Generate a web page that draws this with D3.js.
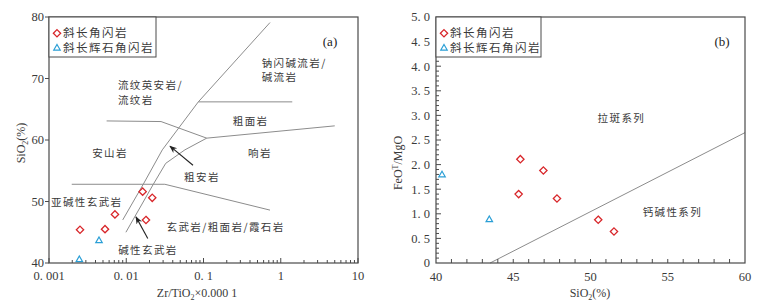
<!DOCTYPE html>
<html><head><meta charset="utf-8">
<script src="https://cdnjs.cloudflare.com/ajax/libs/d3/7.8.5/d3.min.js"></script>
<style>
body{margin:0;background:#fff;}
svg{display:block;}
</style></head>
<body>
<svg id="c" width="771" height="303"></svg>
<script>
// ---------- data ----------
const seriesNames = ["斜长角闪岩", "斜长辉石角闪岩"];
// Chart (a): Zr/TiO2*0.0001 vs SiO2
const aDiamondZr = [0.00252, 0.00531, 0.00714, 0.0163, 0.0217, 0.0180];
const aDiamondSi = [45.4, 45.5, 47.9, 51.6, 50.6, 47.0];
const aTriZr = [0.00444, 0.00247];
const aTriSi = [43.7, 40.6];
// Chart (b): SiO2 vs FeOT/MgO
const bDiamondSi = [45.46, 46.95, 45.35, 47.83, 50.5, 51.52];
const bDiamondFM = [2.11, 1.88, 1.40, 1.31, 0.88, 0.64];
const bTriSi = [40.39, 43.45];
const bTriFM = [1.80, 0.89];
// axis ticks
const aXTicks = [0.001, 0.01, 0.1, 1, 10];
const aXTickLabels = ["0. 001", "0. 01", "0. 1", "1", "10"];
const aYTicks = [40, 50, 60, 70, 80];
const bXTicks = [40, 45, 50, 55, 60];
const bYTicks = [0, 0.5, 1, 1.5, 2, 2.5, 3, 3.5, 4, 4.5, 5];
const bYTickLabels = ["0", "0. 5", "1. 0", "1. 5", "2. 0", "2. 5", "3. 0", "3. 5", "4. 0", "4. 5", "5. 0"];
// field boundaries (data coords) of diagram (a)
const aBoundaries = [
  [[0.726,79.1],[0.0857,66.2],[0.0293,58.4],[0.0166,52.8],[0.0090,47.0]],
  [[0.110,60.3],[0.0575,58.4],[0.0324,56.2],[0.0224,52.8],[0.0099,45.0]],
  [[0.00557,63.1],[0.0282,63.0],[0.110,60.3],[5.0,62.3]],
  [[0.0857,66.2],[1.41,66.2]],
  [[0.00197,52.8],[0.0316,52.8],[0.726,48.6]]
];
const aFieldLabels = [
  {t:["流纹英安岩/","流纹岩"], x:0.0078, y:[68.86,66.5], anchor:"start"},
  {t:["钠闪碱流岩/","碱流岩"], x:0.566, y:[72.54,70.18], anchor:"start"},
  {t:["粗面岩"], x:0.408, y:[63.1], anchor:"middle"},
  {t:["安山岩"], x:0.00617, y:[57.9], anchor:"middle"},
  {t:["响岩"], x:0.538, y:[57.9], anchor:"middle"},
  {t:["粗安岩"], x:0.0955, y:[54.0], anchor:"middle"},
  {t:["亚碱性玄武岩"], x:0.00308, y:[49.8], anchor:"middle"},
  {t:["玄武岩/粗面岩/霞石岩"], x:0.193, y:[45.8], anchor:"middle"},
  {t:["碱性玄武岩"], x:0.0191, y:[42.1], anchor:"middle"}
];
const aArrows = [
  {from:[0.0731,55.9], to:[0.0368,59.0]},
  {from:[0.0190,44.0], to:[0.01336,47.5]}
];
// boundary line of diagram (b)
const bLine = [[43.5,0],[60,2.65]];
const bFieldLabels = [
  {t:"拉斑系列", x:52.0, y:2.94},
  {t:"钙碱性系列", x:55.3, y:1.04}
];

// ---------- drawing ----------
const svg = d3.select("#c");
const axisCol = "#4a4a4a", lineCol = "#8c8c8c", textCol = "#3a3a3a";
const red = "#d8262a", blue = "#2a9fd6";
const serif = "'Liberation Serif','DejaVu Serif',serif";
const cjk = "'Noto Sans CJK SC','Noto Sans',sans-serif";

function diamond(g, x, y){
  g.append("path").attr("d", d3.symbol().type(d3.symbolDiamond2 || d3.symbolSquare2).size(34)())
   .attr("transform", `translate(${x},${y}) rotate(${d3.symbolDiamond2?0:45})`)
   .attr("fill","#fff").attr("stroke",red).attr("stroke-width",1.3);
}
function triangle(g, x, y){
  g.append("path").attr("d", d3.symbol().type(d3.symbolTriangle2).size(30)())
   .attr("transform", `translate(${x},${y+0.5})`)
   .attr("fill","#fff").attr("stroke",blue).attr("stroke-width",1.2);
}
function legend(g, x0, y0, w, h){
  g.append("rect").attr("x",x0).attr("y",y0).attr("width",w).attr("height",h)
   .attr("fill","#fff").attr("stroke",axisCol).attr("stroke-width",1);
  diamond(g, x0+8, y0+16.3);
  triangle(g, x0+8, y0+30.7);
  seriesNames.forEach((s,i)=>{
    g.append("text").attr("x",x0+14).attr("y",y0+16.3+14.4*i).attr("dy","0.35em")
     .attr("font-family",cjk).attr("font-size",11.5).attr("letter-spacing",1.5)
     .attr("fill",textCol).text(s);
  });
}

// ===== Chart (a) =====
{
  const L=49, R=358, T=17, B=263;
  const x = d3.scaleLog().domain([0.001,10]).range([L,R]);
  const y = d3.scaleLinear().domain([40,80]).range([B,T]);
  const g = svg.append("g");
  const ln = d3.line().x(d=>x(d[0])).y(d=>y(d[1]));
  aBoundaries.forEach(b=>g.append("path").attr("d",ln(b)).attr("fill","none")
     .attr("stroke",lineCol).attr("stroke-width",1));
  const defs = svg.append("defs");
  defs.append("marker").attr("id","arr").attr("viewBox","0 0 10 10").attr("refX",9).attr("refY",5)
    .attr("markerWidth",7).attr("markerHeight",7).attr("orient","auto")
    .append("path").attr("d","M0,1 L10,5 L0,9 L3,5 Z").attr("fill","#222");
  aArrows.forEach(a=>g.append("line").attr("x1",x(a.from[0])).attr("y1",y(a.from[1]))
     .attr("x2",x(a.to[0])).attr("y2",y(a.to[1])).attr("stroke","#222").attr("stroke-width",1.1)
     .attr("marker-end","url(#arr)"));
  aFieldLabels.forEach(f=>{
    f.t.forEach((t,i)=>g.append("text").attr("x",x(f.x)).attr("y",y(f.y[i])).attr("dy","0.35em")
      .attr("text-anchor",f.anchor).attr("font-family",cjk).attr("font-size",10.5)
      .attr("letter-spacing",1.4).attr("fill",textCol).text(t));
  });
  g.append("text").attr("x",330).attr("y",41).attr("dy","0.35em").attr("text-anchor","middle")
    .attr("font-family",serif).attr("font-size",13).attr("fill","#222").text("(a)");
  aDiamondZr.forEach((v,i)=>diamond(g,x(v),y(aDiamondSi[i])));
  aTriZr.forEach((v,i)=>triangle(g,x(v),y(aTriSi[i])));
  g.append("rect").attr("x",L).attr("y",T).attr("width",R-L).attr("height",B-T)
   .attr("fill","none").attr("stroke",axisCol).attr("stroke-width",1.2);
  const minor = [];
  for(let e=-3;e<1;e++) for(let k=2;k<10;k++) minor.push(k*Math.pow(10,e));
  g.selectAll(".mnx").data(minor).enter().append("line")
   .attr("x1",d=>x(d)).attr("x2",d=>x(d)).attr("y1",B).attr("y2",B-3).attr("stroke",axisCol);
  g.selectAll(".mjx").data(aXTicks).enter().append("line")
   .attr("x1",d=>x(d)).attr("x2",d=>x(d)).attr("y1",B).attr("y2",B-5).attr("stroke",axisCol);
  g.selectAll(".xl").data(aXTicks).enter().append("text")
   .attr("x",d=>x(d)).attr("y",B+13).attr("dy","0.35em").attr("text-anchor","middle")
   .attr("font-family",serif).attr("font-size",12.5).attr("fill",textCol)
   .text((d,i)=>aXTickLabels[i]);
  g.selectAll(".mjy").data(aYTicks).enter().append("line")
   .attr("x1",L).attr("x2",L-4).attr("y1",d=>y(d)).attr("y2",d=>y(d)).attr("stroke",axisCol);
  g.selectAll(".yl").data(aYTicks).enter().append("text")
   .attr("x",L-5).attr("y",d=>y(d)).attr("dy","0.35em").attr("text-anchor","end")
   .attr("font-family",serif).attr("font-size",12.5).attr("fill",textCol).text(d=>d);
  const xt = g.append("text").attr("x",197).attr("y",293).attr("dy","0.35em").attr("text-anchor","middle")
    .attr("font-family",serif).attr("font-size",12).attr("fill",textCol);
  xt.append("tspan").text("Zr/TiO");
  xt.append("tspan").attr("font-size",8).attr("dy",3).text("2");
  xt.append("tspan").attr("dy",-3).text("×0.000 1");
  const yt = g.append("text").attr("transform","translate(21,143) rotate(-90)").attr("dy","0.35em")
    .attr("text-anchor","middle").attr("font-family",serif).attr("font-size",12).attr("fill",textCol);
  yt.append("tspan").text("SiO");
  yt.append("tspan").attr("font-size",8).attr("dy",3).text("2");
  yt.append("tspan").attr("dy",-3).text("(%)");
  legend(g, L, T, 107, 40);
}

// ===== Chart (b) =====
{
  const L=436, R=745, T=17, B=263;
  const x = d3.scaleLinear().domain([40,60]).range([L,R]);
  const y = d3.scaleLinear().domain([0,5]).range([B,T]);
  const g = svg.append("g");
  const ln = d3.line().x(d=>x(d[0])).y(d=>y(d[1]));
  g.append("path").attr("d",ln(bLine)).attr("fill","none").attr("stroke",lineCol).attr("stroke-width",1);
  bFieldLabels.forEach(f=>g.append("text").attr("x",x(f.x)).attr("y",y(f.y)).attr("dy","0.35em")
    .attr("text-anchor","middle").attr("font-family",cjk).attr("font-size",10.5)
    .attr("letter-spacing",1.4).attr("fill",textCol).text(f.t));
  g.append("text").attr("x",722).attr("y",41).attr("dy","0.35em").attr("text-anchor","middle")
    .attr("font-family",serif).attr("font-size",13).attr("fill","#222").text("(b)");
  bDiamondSi.forEach((v,i)=>diamond(g,x(v),y(bDiamondFM[i])));
  bTriSi.forEach((v,i)=>triangle(g,x(v),y(bTriFM[i])));
  g.append("rect").attr("x",L).attr("y",T).attr("width",R-L).attr("height",B-T)
   .attr("fill","none").attr("stroke",axisCol).attr("stroke-width",1.2);
  g.selectAll(".tx").data(d3.range(41,60)).enter().append("line")
   .attr("x1",d=>x(d)).attr("x2",d=>x(d)).attr("y1",B).attr("y2",B-4).attr("stroke",axisCol);
  g.selectAll(".xl").data(bXTicks).enter().append("text")
   .attr("x",d=>x(d)).attr("y",B+14).attr("dy","0.35em").attr("text-anchor","middle")
   .attr("font-family",serif).attr("font-size",12.5).attr("fill",textCol).text(d=>d);
  g.selectAll(".ty").data(d3.range(1,50)).enter().append("line")
   .attr("x1",L).attr("x2",d=>L+(d%5===0?5:3)).attr("y1",d=>y(d/10)).attr("y2",d=>y(d/10)).attr("stroke",axisCol);
  g.selectAll(".yl").data(bYTicks).enter().append("text")
   .attr("x",L-6).attr("y",d=>y(d)).attr("dy","0.35em").attr("text-anchor","end")
   .attr("font-family",serif).attr("font-size",12.5).attr("fill",textCol).text((d,i)=>bYTickLabels[i]);
  const xt = g.append("text").attr("x",590).attr("y",293).attr("dy","0.35em").attr("text-anchor","middle")
    .attr("font-family",serif).attr("font-size",12).attr("fill",textCol);
  xt.append("tspan").text("SiO");
  xt.append("tspan").attr("font-size",8).attr("dy",3).text("2");
  xt.append("tspan").attr("dy",-3).text("(%)");
  const yt = g.append("text").attr("transform","translate(398,163) rotate(-90)").attr("dy","0.35em")
    .attr("text-anchor","middle").attr("font-family",serif).attr("font-size",12).attr("fill",textCol);
  yt.append("tspan").text("FeO");
  yt.append("tspan").attr("font-size",8).attr("dy",-4).text("T");
  yt.append("tspan").attr("dy",4).text("/MgO");
  legend(g, L, T, 105, 40);
}
</script>
</body></html>
